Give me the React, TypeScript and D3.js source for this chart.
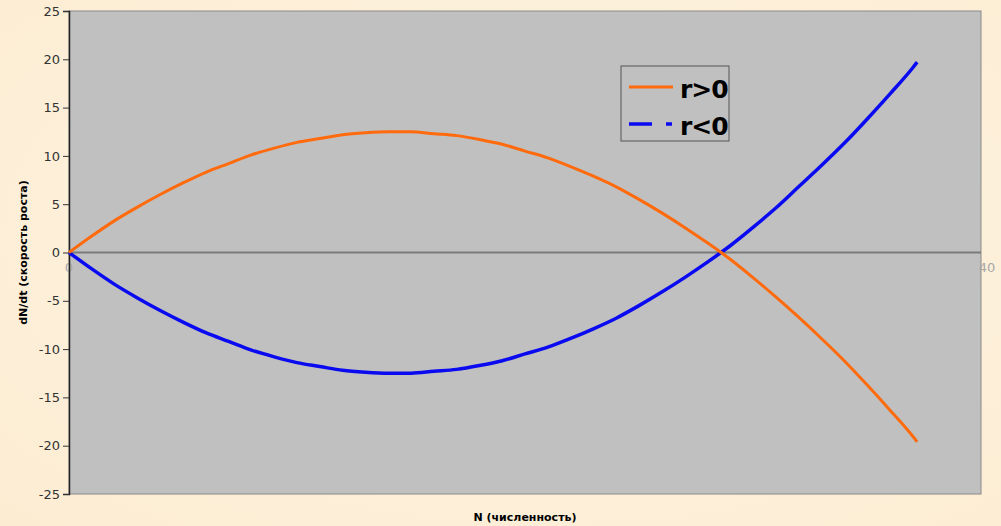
import React, { useEffect, useRef } from 'react';
import * as d3 from 'd3';

// population size N (x values)
const nValues = [0, 1, 2, 3, 4, 5, 6, 7, 8, 9, 10, 11, 12, 13, 14, 15, 16, 17, 18, 19,
    20, 21, 22, 23, 24, 25, 26, 27, 28, 29, 30, 31, 32, 33, 34, 35, 36, 37, 37.2];

// dN/dt for r > 0
const growthPositive = [0, 1.7, 3.3, 4.7, 6.0, 7.2, 8.3, 9.2, 10.1, 10.8, 11.4, 11.8, 12.2, 12.4,
    12.5, 12.5, 12.3, 12.1, 11.7, 11.2, 10.5, 9.8, 8.9, 7.9, 6.8, 5.5, 4.1, 2.6, 1.0, -0.7,
    -2.6, -4.6, -6.7, -8.9, -11.2, -13.7, -16.3, -19.0, -19.6];

// dN/dt for r < 0
const growthNegative = [0, -1.7, -3.3, -4.7, -6.0, -7.2, -8.3, -9.2, -10.1, -10.8, -11.4, -11.8, -12.2,
    -12.4, -12.5, -12.5, -12.3, -12.1, -11.7, -11.2, -10.5, -9.8, -8.9, -7.9, -6.8, -5.5, -4.1,
    -2.6, -1.0, 0.7, 2.6, 4.6, 6.8, 9.0, 11.3, 13.8, 16.4, 19.1, 19.7];

const yTicks = [-25, -20, -15, -10, -5, 0, 5, 10, 15, 20, 25];
const xTickLabels = [0, 40];
const seriesNames = ['r>0', 'r<0'];

function App() {
    const node = useRef<SVGSVGElement | null>(null);

    useEffect(() => {
        const width = 1001;
        const height = 526;
        const left = 69;
        const right = 981;
        const top = 11;
        const bottom = 494;

        const svg = d3.select(node.current);
        svg.selectAll('*').remove();

        // background
        const defs = svg.append('defs');
        const bg = defs.append('radialGradient')
            .attr('id', 'bgGrad')
            .attr('cx', '0.55')
            .attr('cy', '0.45')
            .attr('r', '0.8');
        bg.append('stop').attr('offset', '0%').attr('stop-color', '#fef4e2');
        bg.append('stop').attr('offset', '100%').attr('stop-color', '#fcecd2');

        svg.append('rect')
            .attr('width', width)
            .attr('height', height)
            .attr('fill', 'url(#bgGrad)');

        const xScale = d3.scaleLinear().domain([0, 40]).range([left, right]);
        const yScale = d3.scaleLinear().domain([-25, 25]).range([bottom, top]);

        // plot area
        svg.append('rect')
            .attr('x', left)
            .attr('y', top)
            .attr('width', right - left)
            .attr('height', bottom - top)
            .attr('fill', '#c0c0c0')
            .attr('stroke', '#8a8a8a')
            .attr('stroke-width', 1);

        // x tick labels (axis crosses at 0)
        svg.append('g')
            .selectAll('text')
            .data(xTickLabels)
            .enter()
            .append('text')
            .attr('x', (d) => xScale(d) + (d === 0 ? 0 : 6))
            .attr('y', yScale(0) + 19)
            .attr('text-anchor', 'middle')
            .attr('fill', '#a8a8a8')
            .style('font-family', 'DejaVu Sans, Verdana, sans-serif')
            .style('font-size', '13px')
            .text((d) => d);

        // zero line
        svg.append('line')
            .attr('x1', left)
            .attr('x2', right)
            .attr('y1', yScale(0))
            .attr('y2', yScale(0))
            .attr('stroke', '#7a7a7a')
            .attr('stroke-width', 2);

        // y axis
        const yAxis = d3.axisLeft(yScale)
            .tickValues(yTicks)
            .tickFormat((d) => String(d))
            .tickSize(6)
            .tickPadding(3);

        const yAxisG = svg.append('g')
            .attr('transform', `translate(${left},0)`)
            .call(yAxis);
        yAxisG.select('.domain').attr('stroke', '#222').attr('stroke-width', 1.5);
        yAxisG.selectAll('.tick line').attr('stroke', '#333');
        yAxisG.selectAll('.tick text')
            .attr('fill', '#333')
            .style('font-family', 'DejaVu Sans, Verdana, sans-serif')
            .style('font-size', '13px');

        // lines
        const points = (vals: number[]) => nValues.map((n, i) => [n, vals[i]] as [number, number]);
        const line = d3.line<[number, number]>()
            .x((d) => xScale(d[0]))
            .y((d) => yScale(d[1]))
            .curve(d3.curveMonotoneX);

        svg.append('path')
            .datum(points(growthNegative))
            .attr('d', line)
            .attr('fill', 'none')
            .attr('stroke', '#0a0af0')
            .attr('stroke-width', 3.5)
            .attr('stroke-linejoin', 'round');

        svg.append('path')
            .datum(points(growthPositive))
            .attr('d', line)
            .attr('fill', 'none')
            .attr('stroke', '#ff6a0c')
            .attr('stroke-width', 3)
            .attr('stroke-linejoin', 'round');

        // legend
        const legend = svg.append('g').attr('transform', 'translate(621,66)');
        legend.append('rect')
            .attr('x', 0)
            .attr('y', 0)
            .attr('width', 108)
            .attr('height', 75)
            .attr('fill', '#c0c0c0')
            .attr('stroke', '#555')
            .attr('stroke-width', 1);
        legend.append('line')
            .attr('x1', 8).attr('x2', 52)
            .attr('y1', 21).attr('y2', 21)
            .attr('stroke', '#ff6a0c')
            .attr('stroke-width', 3);
        legend.append('line')
            .attr('x1', 8).attr('x2', 52)
            .attr('y1', 58).attr('y2', 58)
            .attr('stroke', '#0a0af0')
            .attr('stroke-width', 3.5)
            .attr('stroke-dasharray', '23,14,6,20');
        legend.selectAll('text.leg')
            .data(seriesNames)
            .enter()
            .append('text')
            .attr('class', 'leg')
            .attr('x', 59)
            .attr('y', (d, i) => 32 + i * 37)
            .attr('fill', '#000')
            .style('font-family', 'DejaVu Sans, Verdana, sans-serif')
            .style('font-weight', 'bold')
            .style('font-size', '25px')
            .style('letter-spacing', '-1px')
            .text((d) => d);

        // axis titles
        svg.append('text')
            .attr('x', (left + right) / 2)
            .attr('y', 521)
            .attr('text-anchor', 'middle')
            .attr('fill', '#000')
            .style('font-family', 'DejaVu Sans, Verdana, sans-serif')
            .style('font-weight', 'bold')
            .style('font-size', '11px')
            .text('N (численность)');

        svg.append('text')
            .attr('transform', `translate(27,${yScale(0)}) rotate(-90)`)
            .attr('text-anchor', 'middle')
            .attr('fill', '#000')
            .style('font-family', 'DejaVu Sans, Verdana, sans-serif')
            .style('font-weight', 'bold')
            .style('font-size', '11px')
            .text('dN/dt (скорость роста)');
    }, []);

    return (
        <svg
            ref={node}
            width={1001}
            height={526}
            style={{ position: 'absolute', left: 0, top: 0 }}
        />
    );
}

export default App;
